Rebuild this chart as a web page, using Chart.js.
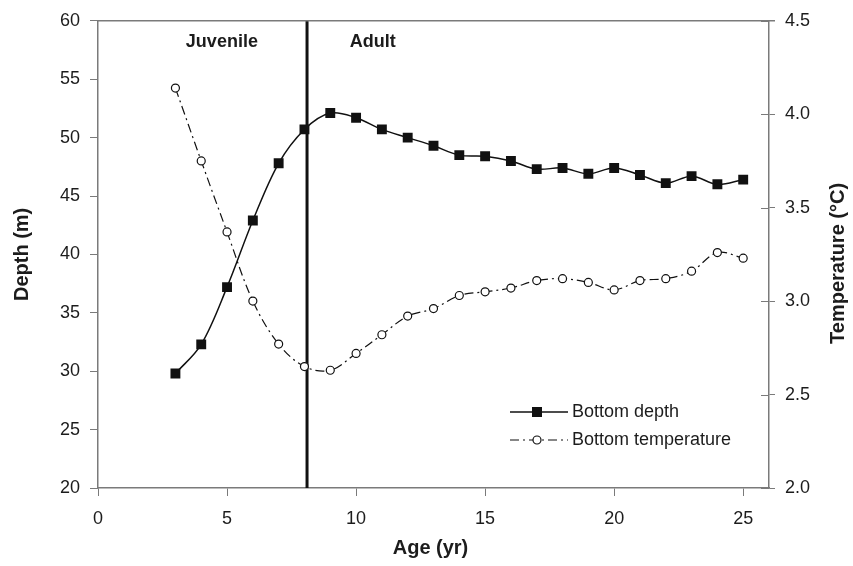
<!DOCTYPE html>
<html>
<head>
<meta charset="utf-8">
<script src="https://cdn.jsdelivr.net/npm/chart.js@4/dist/chart.umd.min.js"></script>
<style>
  html, body { margin: 0; padding: 0; background: #ffffff; }
  #wrap { width: 853px; height: 566px; }
</style>
</head>
<body>
<div id="wrap"><canvas id="c" width="853" height="566"></canvas></div>
<script>
// ---- Data ----
const ages = [3,4,5,6,7,8,9,10,11,12,13,14,15,16,17,18,19,20,21,22,23,24,25];
const bottomDepth = [29.8,32.3,37.2,42.9,47.8,50.7,52.1,51.7,50.7,50.0,49.3,48.5,48.4,48.0,47.3,47.4,46.9,47.4,46.8,46.1,46.7,46.0,46.4];
const bottomTemp = [4.14,3.75,3.37,3.00,2.77,2.65,2.63,2.72,2.82,2.92,2.96,3.03,3.05,3.07,3.11,3.12,3.10,3.06,3.11,3.12,3.16,3.26,3.23];
const stageBoundaryAge = [8.1];
const depthRange = [20, 60];
const tempRange = [2.0, 4.5];
const ageRange = [0, 26];
const xTickValues = [0,5,10,15,20,25];
const depthTickValues = [20,25,30,35,40,45,50,55,60];
const tempTickValues = [2.0,2.5,3.0,3.5,4.0,4.5];
const stageNames = ['Juvenile', 'Adult'];
const stageLabelAge = [4.8, 10.65];
const stageLabelDepth = [58.2, 58.2];
const seriesNames = ['Bottom depth', 'Bottom temperature'];
const axisTitles = { x: 'Age (yr)', y: 'Depth (m)', y2: 'Temperature (°C)' };

const FONT = '"Liberation Sans", Arial, Helvetica, sans-serif';
const AXIS_COLOR = '#7a7a7a';
const INK = '#111111';
const TXT = '#1c1c1c';

const depthPts = ages.map((a, i) => ({ x: a, y: bottomDepth[i] }));
const tempPts = ages.map((a, i) => ({ x: a, y: bottomTemp[i] }));
const boundaryPts = [
  { x: stageBoundaryAge[0], y: depthRange[0] },
  { x: stageBoundaryAge[0], y: depthRange[1] }
];

const DASHDOT = [9, 4, 2, 4];

const decorPlugin = {
  id: 'decor',
  afterDraw(chart) {
    const ctx = chart.ctx;
    const ca = chart.chartArea;
    const xs = chart.scales.x, ys = chart.scales.y, y2 = chart.scales.y2;
    ctx.save();
    // top border
    ctx.strokeStyle = AXIS_COLOR;
    ctx.lineWidth = 1.5;
    ctx.beginPath();
    ctx.moveTo(ca.left, ca.top);
    ctx.lineTo(ca.right + 6, ca.top);
    ctx.stroke();
    // inward part of right ticks
    ctx.lineWidth = 1;
    tempTickValues.forEach(v => {
      const py = Math.round(y2.getPixelForValue(v)) + 0.5;
      ctx.beginPath();
      ctx.moveTo(ca.right - 8, py);
      ctx.lineTo(ca.right, py);
      ctx.stroke();
    });

    // stage labels
    ctx.fillStyle = TXT;
    ctx.font = 'bold 18px ' + FONT;
    ctx.textAlign = 'center';
    ctx.textBaseline = 'middle';
    stageNames.forEach((s, i) => {
      ctx.fillText(s, xs.getPixelForValue(stageLabelAge[i]), ys.getPixelForValue(stageLabelDepth[i]));
    });

    // axis titles
    ctx.font = 'bold 20px ' + FONT;
    ctx.fillText(axisTitles.x, (ca.left + ca.right) / 2 - 3, 548);
    ctx.save();
    ctx.translate(22, (ca.top + ca.bottom) / 2);
    ctx.rotate(-Math.PI / 2);
    ctx.fillText(axisTitles.y, 0, 0);
    ctx.restore();
    ctx.save();
    ctx.translate(838, (ca.top + ca.bottom) / 2 + 9);
    ctx.rotate(-Math.PI / 2);
    ctx.fillText(axisTitles.y2, 0, 0);
    ctx.restore();

    // legend
    const lx0 = 510, lx1 = 568, mx = 537;
    const rows = [412, 440];
    ctx.strokeStyle = INK;
    ctx.fillStyle = INK;
    // row 1
    ctx.lineWidth = 1.5;
    ctx.setLineDash([]);
    ctx.beginPath();
    ctx.moveTo(lx0, rows[0]);
    ctx.lineTo(lx1, rows[0]);
    ctx.stroke();
    ctx.fillRect(mx - 5, rows[0] - 5, 10, 10);
    // row 2
    ctx.lineWidth = 1.2;
    ctx.setLineDash(DASHDOT);
    ctx.beginPath();
    ctx.moveTo(lx0, rows[1]);
    ctx.lineTo(lx1, rows[1]);
    ctx.stroke();
    ctx.setLineDash([]);
    ctx.fillStyle = '#ffffff';
    ctx.beginPath();
    ctx.arc(mx, rows[1], 4, 0, Math.PI * 2);
    ctx.fill();
    ctx.stroke();
    ctx.fillStyle = TXT;
    ctx.font = '18px ' + FONT;
    ctx.textAlign = 'left';
    ctx.fillText(seriesNames[0], 572, rows[0]);
    ctx.fillText(seriesNames[1], 572, rows[1]);
    ctx.restore();
  }
};

new Chart(document.getElementById('c'), {
  type: 'line',
  data: {
    datasets: [
      {
        label: seriesNames[0],
        data: depthPts,
        yAxisID: 'y',
        borderColor: INK,
        backgroundColor: INK,
        borderWidth: 1.5,
        pointStyle: 'rect',
        pointRadius: 7,
        pointBackgroundColor: INK,
        pointBorderColor: INK,
        pointBorderWidth: 0,
        tension: 0.35,
        order: 1
      },
      {
        label: seriesNames[1],
        data: tempPts,
        yAxisID: 'y2',
        borderColor: INK,
        borderWidth: 1.2,
        borderDash: DASHDOT,
        pointStyle: 'circle',
        pointRadius: 4,
        pointBackgroundColor: '#ffffff',
        pointBorderColor: INK,
        pointBorderWidth: 1.2,
        tension: 0.35,
        order: 2
      },
      {
        label: 'boundary',
        data: boundaryPts,
        yAxisID: 'y',
        borderColor: INK,
        borderWidth: 3,
        pointRadius: 0,
        tension: 0,
        order: 3
      }
    ]
  },
  options: {
    responsive: false,
    animation: false,
    events: [],
    layout: { padding: { top: 20, left: 0, right: 0, bottom: 0 } },
    plugins: { legend: { display: false }, tooltip: { enabled: false }, title: { display: false } },
    scales: {
      x: {
        type: 'linear',
        min: ageRange[0], max: ageRange[1],
        afterBuildTicks: s => { s.ticks = xTickValues.map(v => ({ value: v })); },
        afterFit: s => { s.height = 78; },
        grid: { drawOnChartArea: false, drawTicks: true, tickLength: 8, color: AXIS_COLOR, lineWidth: 1 },
        border: { color: AXIS_COLOR, width: 1.5 },
        ticks: { color: TXT, font: { family: FONT, size: 18 }, padding: 12, maxRotation: 0 }
      },
      y: {
        type: 'linear', position: 'left',
        min: depthRange[0], max: depthRange[1],
        afterBuildTicks: s => { s.ticks = depthTickValues.map(v => ({ value: v })); },
        afterFit: s => { s.width = 98; },
        grid: { drawOnChartArea: false, drawTicks: true, tickLength: 8, color: AXIS_COLOR, lineWidth: 1 },
        border: { color: AXIS_COLOR, width: 1.5 },
        ticks: { color: TXT, font: { family: FONT, size: 18 }, padding: 10 }
      },
      y2: {
        type: 'linear', position: 'right',
        min: tempRange[0], max: tempRange[1],
        afterBuildTicks: s => { s.ticks = tempTickValues.map(v => ({ value: v })); },
        afterFit: s => { s.width = 84; },
        grid: { drawOnChartArea: false, drawTicks: true, tickLength: 6, color: AXIS_COLOR, lineWidth: 1 },
        border: { color: AXIS_COLOR, width: 1.5 },
        ticks: { color: TXT, font: { family: FONT, size: 18 }, padding: 10, callback: v => Number(v).toFixed(1) }
      }
    }
  },
  plugins: [decorPlugin]
});
</script>
</body>
</html>
